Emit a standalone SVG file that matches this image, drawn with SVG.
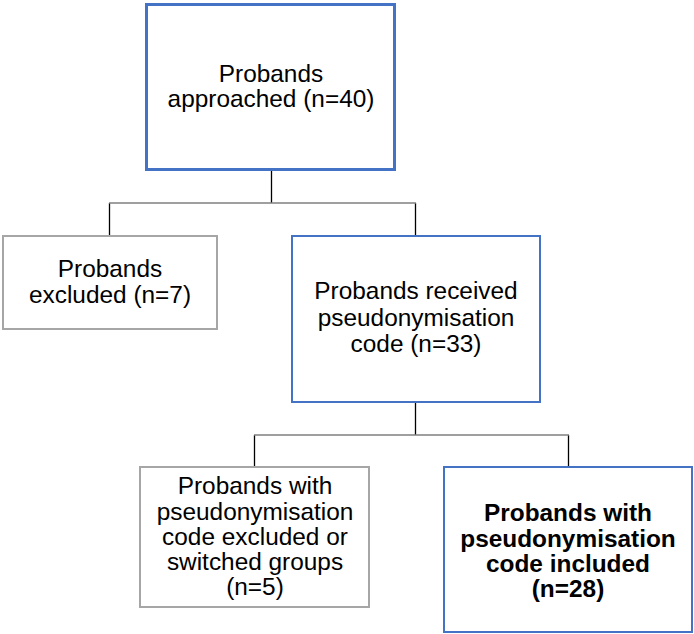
<svg xmlns="http://www.w3.org/2000/svg" width="694" height="634" viewBox="0 0 694 634">
  <style>
    .box { fill: #ffffff; }
    .blue { stroke: #4472C4; stroke-width: 2; }
    .blue-thick { stroke: #4472C4; stroke-width: 3; }
    .grey { stroke: #A6A6A6; stroke-width: 2; }
    .label { font-family: "Liberation Sans", Arial, sans-serif; font-size: 24.4px; fill: #000000; text-anchor: middle; }
    .bold { font-weight: bold; }
    .link { fill: none; stroke: #000000; stroke-width: 1.3; }
    .bar { fill: none; stroke: #7F7F7F; stroke-width: 1.5; }
  </style>
  <rect width="694" height="634" fill="#ffffff"/>

  <g id="connectors">
    <path class="link" d="M271.5 170 V203 M109.5 203 V236 M415.5 203 V236"/>
    <path class="bar" d="M109 203 H416"/>
    <path class="link" d="M415.5 402 V435 M254.5 435 V467 M568.5 435 V467"/>
    <path class="bar" d="M254 435 H569"/>
  </g>

  <g id="approached">
    <rect class="box blue-thick" x="146.5" y="4.5" width="248" height="165"/>
    <text class="label" x="271" y="82">Probands</text>
    <text class="label" x="271" y="107">approached (n=40)</text>
  </g>

  <g id="excluded">
    <rect class="box grey" x="3" y="236" width="214" height="93"/>
    <text class="label" x="110" y="277">Probands</text>
    <text class="label" x="110" y="303">excluded (n=7)</text>
  </g>

  <g id="received">
    <rect class="box blue" x="292" y="236" width="248" height="166"/>
    <text class="label" x="416" y="299">Probands received</text>
    <text class="label" x="416" y="326">pseudonymisation</text>
    <text class="label" x="416" y="352">code (n=33)</text>
  </g>

  <g id="switched">
    <rect class="box grey" x="140" y="467" width="229" height="140"/>
    <text class="label" x="255" y="494">Probands with</text>
    <text class="label" x="255" y="519.5">pseudonymisation</text>
    <text class="label" x="255" y="545">code excluded or</text>
    <text class="label" x="255" y="570">switched groups</text>
    <text class="label" x="255" y="595">(n=5)</text>
  </g>

  <g id="included">
    <rect class="box blue" x="444" y="467" width="248" height="165"/>
    <text class="label bold" x="568" y="521">Probands with</text>
    <text class="label bold" x="568" y="546.5">pseudonymisation</text>
    <text class="label bold" x="568" y="572">code included</text>
    <text class="label bold" x="568" y="597">(n=28)</text>
  </g>
</svg>
